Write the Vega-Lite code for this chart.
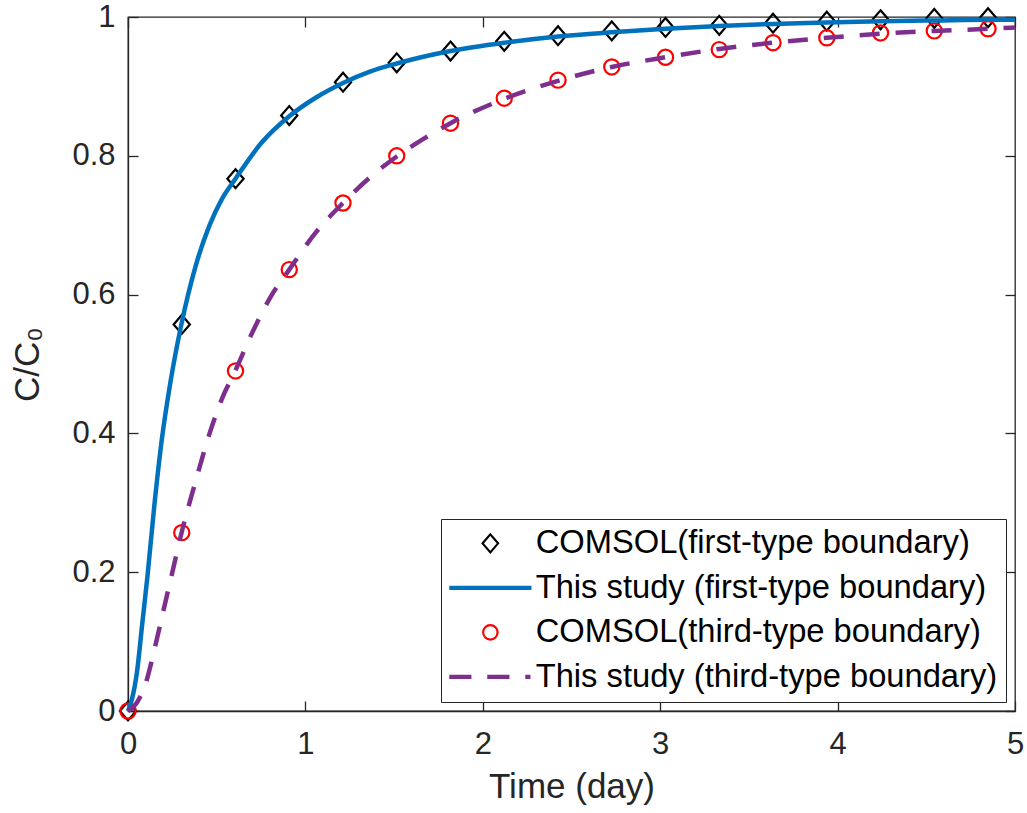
{
  "$schema": "https://vega.github.io/schema/vega-lite/v6.json",
  "width": 887,
  "height": 694,
  "autosize": "none",
  "padding": {"left": 128, "top": 17, "right": 12, "bottom": 102},
  "background": "white",
  "datasets": {
    "markers": [
      {"series": "COMSOL(first-type boundary)", "t": 0, "c": 0},
      {"series": "COMSOL(first-type boundary)", "t": 0.303, "c": 0.557},
      {"series": "COMSOL(first-type boundary)", "t": 0.606, "c": 0.767},
      {"series": "COMSOL(first-type boundary)", "t": 0.909, "c": 0.858},
      {"series": "COMSOL(first-type boundary)", "t": 1.212, "c": 0.906},
      {"series": "COMSOL(first-type boundary)", "t": 1.515, "c": 0.934},
      {"series": "COMSOL(first-type boundary)", "t": 1.818, "c": 0.951},
      {"series": "COMSOL(first-type boundary)", "t": 2.121, "c": 0.965},
      {"series": "COMSOL(first-type boundary)", "t": 2.424, "c": 0.973},
      {"series": "COMSOL(first-type boundary)", "t": 2.727, "c": 0.98},
      {"series": "COMSOL(first-type boundary)", "t": 3.03, "c": 0.985},
      {"series": "COMSOL(first-type boundary)", "t": 3.333, "c": 0.988},
      {"series": "COMSOL(first-type boundary)", "t": 3.636, "c": 0.991},
      {"series": "COMSOL(first-type boundary)", "t": 3.939, "c": 0.994},
      {"series": "COMSOL(first-type boundary)", "t": 4.242, "c": 0.996},
      {"series": "COMSOL(first-type boundary)", "t": 4.545, "c": 0.998},
      {"series": "COMSOL(first-type boundary)", "t": 4.848, "c": 0.999},
      {"series": "COMSOL(third-type boundary)", "t": 0, "c": 0},
      {"series": "COMSOL(third-type boundary)", "t": 0.303, "c": 0.257},
      {"series": "COMSOL(third-type boundary)", "t": 0.606, "c": 0.49},
      {"series": "COMSOL(third-type boundary)", "t": 0.909, "c": 0.636},
      {"series": "COMSOL(third-type boundary)", "t": 1.212, "c": 0.732},
      {"series": "COMSOL(third-type boundary)", "t": 1.515, "c": 0.8},
      {"series": "COMSOL(third-type boundary)", "t": 1.818, "c": 0.847},
      {"series": "COMSOL(third-type boundary)", "t": 2.121, "c": 0.883},
      {"series": "COMSOL(third-type boundary)", "t": 2.424, "c": 0.909},
      {"series": "COMSOL(third-type boundary)", "t": 2.727, "c": 0.928},
      {"series": "COMSOL(third-type boundary)", "t": 3.03, "c": 0.942},
      {"series": "COMSOL(third-type boundary)", "t": 3.333, "c": 0.953},
      {"series": "COMSOL(third-type boundary)", "t": 3.636, "c": 0.963},
      {"series": "COMSOL(third-type boundary)", "t": 3.939, "c": 0.97},
      {"series": "COMSOL(third-type boundary)", "t": 4.242, "c": 0.977},
      {"series": "COMSOL(third-type boundary)", "t": 4.545, "c": 0.98},
      {"series": "COMSOL(third-type boundary)", "t": 4.848, "c": 0.983}
    ],
    "curves": [
      {"series": "This study (first-type boundary)", "t": 0, "c": 0},
      {"series": "This study (first-type boundary)", "t": 0.02, "c": 0.015},
      {"series": "This study (first-type boundary)", "t": 0.05, "c": 0.055},
      {"series": "This study (first-type boundary)", "t": 0.08, "c": 0.125},
      {"series": "This study (first-type boundary)", "t": 0.11, "c": 0.195},
      {"series": "This study (first-type boundary)", "t": 0.15, "c": 0.3},
      {"series": "This study (first-type boundary)", "t": 0.19, "c": 0.39},
      {"series": "This study (first-type boundary)", "t": 0.24, "c": 0.475},
      {"series": "This study (first-type boundary)", "t": 0.3, "c": 0.556},
      {"series": "This study (first-type boundary)", "t": 0.38, "c": 0.64},
      {"series": "This study (first-type boundary)", "t": 0.46, "c": 0.7},
      {"series": "This study (first-type boundary)", "t": 0.53, "c": 0.738},
      {"series": "This study (first-type boundary)", "t": 0.606, "c": 0.767},
      {"series": "This study (first-type boundary)", "t": 0.75, "c": 0.818},
      {"series": "This study (first-type boundary)", "t": 0.909, "c": 0.857},
      {"series": "This study (first-type boundary)", "t": 1.06, "c": 0.884},
      {"series": "This study (first-type boundary)", "t": 1.212, "c": 0.905},
      {"series": "This study (first-type boundary)", "t": 1.36, "c": 0.921},
      {"series": "This study (first-type boundary)", "t": 1.515, "c": 0.933},
      {"series": "This study (first-type boundary)", "t": 1.818, "c": 0.951},
      {"series": "This study (first-type boundary)", "t": 2.121, "c": 0.963},
      {"series": "This study (first-type boundary)", "t": 2.424, "c": 0.972},
      {"series": "This study (first-type boundary)", "t": 2.727, "c": 0.978},
      {"series": "This study (first-type boundary)", "t": 3.03, "c": 0.983},
      {"series": "This study (first-type boundary)", "t": 3.333, "c": 0.987},
      {"series": "This study (first-type boundary)", "t": 3.636, "c": 0.99},
      {"series": "This study (first-type boundary)", "t": 3.939, "c": 0.992},
      {"series": "This study (first-type boundary)", "t": 4.242, "c": 0.994},
      {"series": "This study (first-type boundary)", "t": 4.545, "c": 0.995},
      {"series": "This study (first-type boundary)", "t": 4.848, "c": 0.996},
      {"series": "This study (first-type boundary)", "t": 5, "c": 0.996},
      {"series": "This study (third-type boundary)", "t": 0, "c": 0},
      {"series": "This study (third-type boundary)", "t": 0.05, "c": 0.012},
      {"series": "This study (third-type boundary)", "t": 0.1, "c": 0.04},
      {"series": "This study (third-type boundary)", "t": 0.15, "c": 0.09},
      {"series": "This study (third-type boundary)", "t": 0.2, "c": 0.145},
      {"series": "This study (third-type boundary)", "t": 0.25, "c": 0.2},
      {"series": "This study (third-type boundary)", "t": 0.303, "c": 0.258},
      {"series": "This study (third-type boundary)", "t": 0.38, "c": 0.33},
      {"series": "This study (third-type boundary)", "t": 0.46, "c": 0.4},
      {"series": "This study (third-type boundary)", "t": 0.53, "c": 0.45},
      {"series": "This study (third-type boundary)", "t": 0.606, "c": 0.491},
      {"series": "This study (third-type boundary)", "t": 0.7, "c": 0.545},
      {"series": "This study (third-type boundary)", "t": 0.8, "c": 0.595},
      {"series": "This study (third-type boundary)", "t": 0.909, "c": 0.636},
      {"series": "This study (third-type boundary)", "t": 1.06, "c": 0.69},
      {"series": "This study (third-type boundary)", "t": 1.212, "c": 0.732},
      {"series": "This study (third-type boundary)", "t": 1.36, "c": 0.768},
      {"series": "This study (third-type boundary)", "t": 1.515, "c": 0.799},
      {"series": "This study (third-type boundary)", "t": 1.67, "c": 0.825},
      {"series": "This study (third-type boundary)", "t": 1.818, "c": 0.847},
      {"series": "This study (third-type boundary)", "t": 2.121, "c": 0.882},
      {"series": "This study (third-type boundary)", "t": 2.424, "c": 0.908},
      {"series": "This study (third-type boundary)", "t": 2.727, "c": 0.928},
      {"series": "This study (third-type boundary)", "t": 3.03, "c": 0.942},
      {"series": "This study (third-type boundary)", "t": 3.333, "c": 0.954},
      {"series": "This study (third-type boundary)", "t": 3.636, "c": 0.963},
      {"series": "This study (third-type boundary)", "t": 3.939, "c": 0.97},
      {"series": "This study (third-type boundary)", "t": 4.242, "c": 0.976},
      {"series": "This study (third-type boundary)", "t": 4.545, "c": 0.98},
      {"series": "This study (third-type boundary)", "t": 4.848, "c": 0.983},
      {"series": "This study (third-type boundary)", "t": 5, "c": 0.985}
    ]
  },
  "config": {
    "font": "Liberation Sans",
    "view": {"stroke": "#262626", "strokeWidth": 1.3},
    "axis": {
      "domainColor": "#262626",
      "domainWidth": 1.3,
      "tickColor": "#262626",
      "tickWidth": 1.3,
      "tickSize": -10,
      "labelColor": "#262626",
      "labelFontSize": 31,
      "labelFlush": false,
      "titleColor": "#262626",
      "titleFontSize": 35,
      "titleFontWeight": "normal",
      "grid": false
    },
    "legend": {
      "orient": "bottom-right",
      "offset": 9,
      "padding": 8,
      "strokeColor": "#262626",
      "fillColor": "white",
      "labelFontSize": 32.7,
      "labelColor": "black",
      "labelLimit": 0,
      "symbolSize": 100,
      "symbolStrokeWidth": 2.2,
      "symbolOffset": 25,
      "labelOffset": 29,
      "rowPadding": 10.5,
      "title": null
    }
  },
  "resolve": {"axis": {"x": "independent", "y": "independent"}},
  "layer": [
    {
      "data": {"name": "markers"},
      "mark": {"type": "point", "filled": false, "size": 110, "opacity": 1, "strokeWidth": 2.2},
      "encoding": {
        "x": {"field": "t", "type": "quantitative", "scale": {"domain": [0, 5], "nice": false}, "axis": {"values": [0, 1, 2, 3, 4, 5], "title": "Time (day)", "labelPadding": 28, "titlePadding": 10, "format": "d"}},
        "y": {"field": "c", "type": "quantitative", "scale": {"domain": [0, 1], "nice": false}, "axis": {"values": [0, 0.2, 0.4, 0.6, 0.8, 1], "title": "C/C₀", "labelPadding": 23, "titlePadding": 26, "format": "~g"}},
        "color": {"field": "series", "type": "nominal", "title": null, "scale": {"domain": ["COMSOL(first-type boundary)", "This study (first-type boundary)", "COMSOL(third-type boundary)", "This study (third-type boundary)"], "range": ["#000000", "#0072BD", "#FF0000", "#7E2F8E"]}},
        "shape": {"field": "series", "type": "nominal", "title": null, "scale": {"domain": ["COMSOL(first-type boundary)", "This study (first-type boundary)", "COMSOL(third-type boundary)", "This study (third-type boundary)"], "range": ["M0,-1.8L1.55,0L0,1.8L-1.55,0Z", "M-8,-0.2L8,-0.2L8,0.2L-8,0.2Z", "M1.45,0A1.45,1.45,0,1,1,-1.45,0A1.45,1.45,0,1,1,1.45,0Z", "M-8,-0.2L-4,-0.2L-4,0.2L-8,0.2ZM-0.4,-0.2L3.6,-0.2L3.6,0.2L-0.4,0.2ZM7.2,-0.2L7.8,-0.2L7.8,0.2L7.2,0.2Z"]}}
      }
    },
    {
      "data": {"name": "curves"},
      "transform": [{"filter": "datum.series === 'This study (first-type boundary)'"}],
      "mark": {"type": "line", "interpolate": "monotone", "strokeWidth": 4.5},
      "encoding": {
        "x": {"field": "t", "type": "quantitative", "axis": null},
        "y": {"field": "c", "type": "quantitative", "axis": null},
        "color": {"field": "series", "type": "nominal", "title": null}
      }
    },
    {
      "data": {"name": "curves"},
      "transform": [{"filter": "datum.series === 'This study (third-type boundary)'"}],
      "mark": {"type": "line", "interpolate": "monotone", "strokeWidth": 4.5, "strokeDash": [20, 16]},
      "encoding": {
        "x": {"field": "t", "type": "quantitative", "axis": null},
        "y": {"field": "c", "type": "quantitative", "axis": null},
        "color": {"field": "series", "type": "nominal", "title": null}
      }
    },
    {
      "data": {"name": "markers"},
      "mark": {"type": "point", "opacity": 0},
      "encoding": {
        "x": {"field": "t", "type": "quantitative", "axis": {"orient": "top", "values": [0, 1, 2, 3, 4, 5], "labels": false, "title": null, "domain": false}},
        "y": {"field": "c", "type": "quantitative", "axis": {"orient": "right", "values": [0, 0.2, 0.4, 0.6, 0.8, 1], "labels": false, "title": null, "domain": false}}
      }
    }
  ]
}
